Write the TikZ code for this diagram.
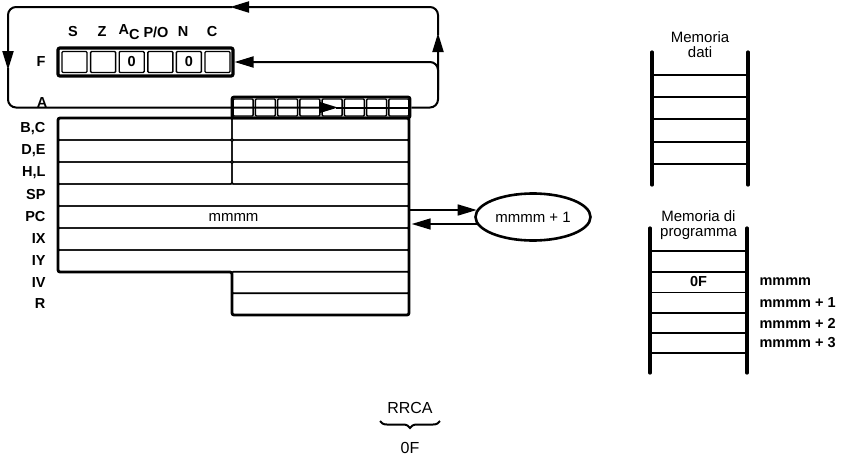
\documentclass[tikz,border=0pt]{standalone}
\usepackage{fontspec}
\setmainfont{Liberation Sans}
\usetikzlibrary{arrows.meta,shapes.geometric,decorations.pathreplacing,calc}

\tikzset{
  regrow/.style={draw, line width=1.4pt, rounded corners=1.5pt, inner sep=0pt, minimum height=22},
  bitcell/.style={draw, line width=1.4pt, rounded corners=1pt, inner sep=0pt},
  boldtext/.style={font=\fontsize{14.5}{15}\selectfont\bfseries},
  reglabel/.style={anchor=east, boldtext},
  loopline/.style={line width=2pt, rounded corners=8pt},
  tip/.style={-{Triangle[length=19pt,width=11pt]}},
  memrail/.style={line width=3.2pt, line cap=round},
  memline/.style={line width=1.6pt},
}

\begin{document}
\begin{tikzpicture}[x=1pt, y=-1pt, font=\fontsize{15}{15}\selectfont]
  \useasboundingbox (0,0) rectangle (854,458);

  % flag register F
  \node[draw, line width=3.2pt, rounded corners=2pt, minimum width=175, minimum height=28, inner sep=0pt] (regF) at (145.5,62) {};
  \foreach \i/\v in {0/{}, 1/{}, 2/0, 3/{}, 4/0, 5/{}}
    \node[bitcell, minimum width=25, minimum height=21, boldtext] (f\i) at (74.5+28.6*\i,62) {\v};
  \foreach \x/\flag in {73/S, 102/Z, 129/{A\raisebox{-0.55ex}{C}}, 156/{P/O}, 183/N, 212/C}
    \node[boldtext] at (\x,32) {\flag};
  \node[reglabel] at (49,62) {F};

  % accumulator A
  \node[draw, line width=2.8pt, rounded corners=2pt, minimum width=178, minimum height=21, inner sep=0pt] (regA) at (321,107.5) {};
  \foreach \i in {0,...,7}
    \node[bitcell, minimum width=20, minimum height=17] (a\i) at (243.1+22.25*\i,107.5) {};
  \node[boldtext] at (42,103) {A};

  % register pairs
  \foreach \n/\y/\lbl in {bc/129/{B,C}, de/151/{D,E}, hl/173/{H,L}} {
    \node[regrow, minimum width=174] (\n h) at (145,\y) {};
    \node[regrow, minimum width=177] (\n l) at (320.5,\y) {};
    \node[reglabel] at (49,\y) {\lbl};
  }
  % 16-bit registers
  \foreach \n/\y/\lbl/\v in {sp/195/SP/{}, pc/217/PC/mmmm, ix/239/IX/{}, iy/261/IY/{}} {
    \node[regrow, minimum width=351] (\n) at (233.5,\y) {\v};
    \node[reglabel] at (49,\y) {\lbl};
  }
  % interrupt vector and refresh
  \foreach \n/\y/\lbl in {iv/282.5/IV, r/304/R} {
    \node[regrow, minimum width=177] (\n) at (320.5,\y) {};
    \node[reglabel] at (49,\y) {\lbl};
  }
  % outer frame of the register file
  \draw[line width=2.8pt, rounded corners=2pt] (58,118) -- (409,118) -- (409,315) -- (232,315) -- (232,272) -- (58,272) -- cycle;

  % rotate loop through A and carry
  \draw[loopline, tip] (regA.east) -- (438,107.5) -- (438,33);
  \draw[loopline, tip] (438,35) -- (438,7) -- (230,7);
  \draw[loopline, tip] (232,7) -- (8,7) -- (8,70);
  \draw[loopline, tip] (8,68) -- (8,107.5) -- (338,107.5);
  \draw[line width=2pt] (336,107.5) -- (regA.east);
  \draw[loopline, tip] (438,90) -- (438,62) -- (regF.east);

  % program counter increment
  \node[draw, ellipse, line width=2.6pt, minimum width=115, minimum height=47, inner sep=0pt] (next) at (533,217) {mmmm + 1};
  \draw[line width=1.6pt, tip] ($(pc.east)+(0,-7)$) -- ($(next.west)+(2.5,-7)$);
  \draw[line width=1.6pt, tip] ($(next.west)+(2.5,7)$) -- ($(pc.east)+(2,7)$);

  % data memory
  \node[align=center] (dati) at (700,45) {Memoria\\dati};
  \draw[memrail] (652,52) -- (652,185);
  \draw[memrail] (748,52) -- (748,185);
  \foreach \y in {75,97,119,142,164}
    \draw[memline] (652,\y) -- (748,\y);

  % program memory
  \node[align=center] (prog) at (698.5,225.5) {Memoria di\\programma};
  \draw[memrail] (650,228) -- (650,373);
  \draw[memrail] (747,228) -- (747,373);
  \foreach \y in {251,272,292.5,313,333,353}
    \draw[memline] (650,\y) -- (747,\y);
  \node[boldtext] (instr) at (698.5,282) {0F};
  \foreach \i/\y/\addr in {0/282/mmmm, 1/302.5/mmmm + 1, 2/323/mmmm + 2, 3/343/mmmm + 3}
    \node[anchor=west, boldtext] (addr\i) at (756,\y) {\addr};

  % instruction mnemonic and opcode
  \node[font=\fontsize{16}{16}\selectfont] (mnem) at (410,408) {RRCA};
  \draw[line width=2pt, decorate, decoration={brace, mirror, amplitude=7pt}] (380,421) -- (440,421);
  \node[font=\fontsize{16}{16}\selectfont] (code) at (410,448) {0F};
\end{tikzpicture}
\end{document}
